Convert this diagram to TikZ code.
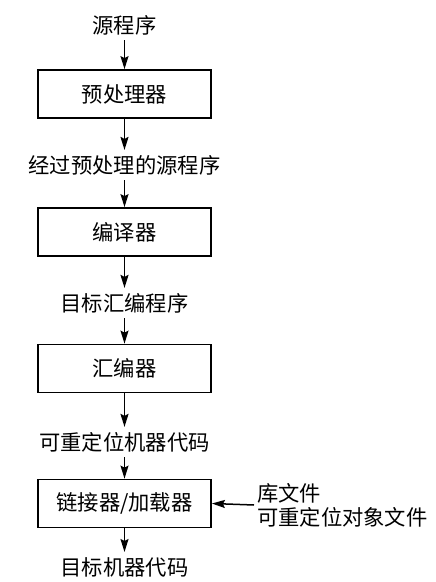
\documentclass[tikz,border=0pt]{standalone}
\usepackage{fontspec}
\setmainfont{Noto Sans CJK SC}
\usetikzlibrary{arrows.meta}

\tikzset{
  stage/.style={draw, line width=1.8pt, minimum width=173pt, minimum height=48pt, inner sep=0pt},
  data/.style={inner sep=5pt},
  flow/.style={-{Stealth[length=13pt,width=8pt,inset=2pt]}, line width=1.5pt}
}

\begin{document}
\begin{tikzpicture}[x=1pt, y=-1pt, font=\fontsize{21.3}{24}\selectfont]
  \useasboundingbox[fill=white] (0,0) rectangle (436,582);

  % Stages
  \node[stage] (pre) at (124.5, 94) {预处理器};
  \node[stage] (cc) at (124.5, 232) {编译器};
  \node[stage] (as) at (124.5, 368.5) {汇编器};
  \node[stage] (ld) at (124.5, 503.5) {链接器/加载器};

  % Data between stages
  \node[data] (src) at (124.5, 25) {源程序};
  \node[data] (ppsrc) at (124.5, 165) {经过预处理的源程序};
  \node[data] (asmsrc) at (124.5, 303) {目标汇编程序};
  \node[data] (obj) at (124.5, 442) {可重定位机器代码};
  \node[data] (exe) at (124.5, 567) {目标机器代码};
  \node[data, inner sep=3pt, anchor=west, align=left] (lib) at (254, 505) {库文件\\可重定位对象文件};

  % Arrows
  \draw[flow] (src) -- (pre);
  \draw[flow] (pre) -- (ppsrc);
  \draw[flow] (ppsrc) -- (cc);
  \draw[flow] (cc) -- (asmsrc);
  \draw[flow] (asmsrc) -- (as);
  \draw[flow] (as) -- (obj);
  \draw[flow] (obj) -- (ld);
  \draw[flow] (ld) -- (exe);
  \draw[flow] (lib.west) -- (ld.east);
\end{tikzpicture}
\end{document}
